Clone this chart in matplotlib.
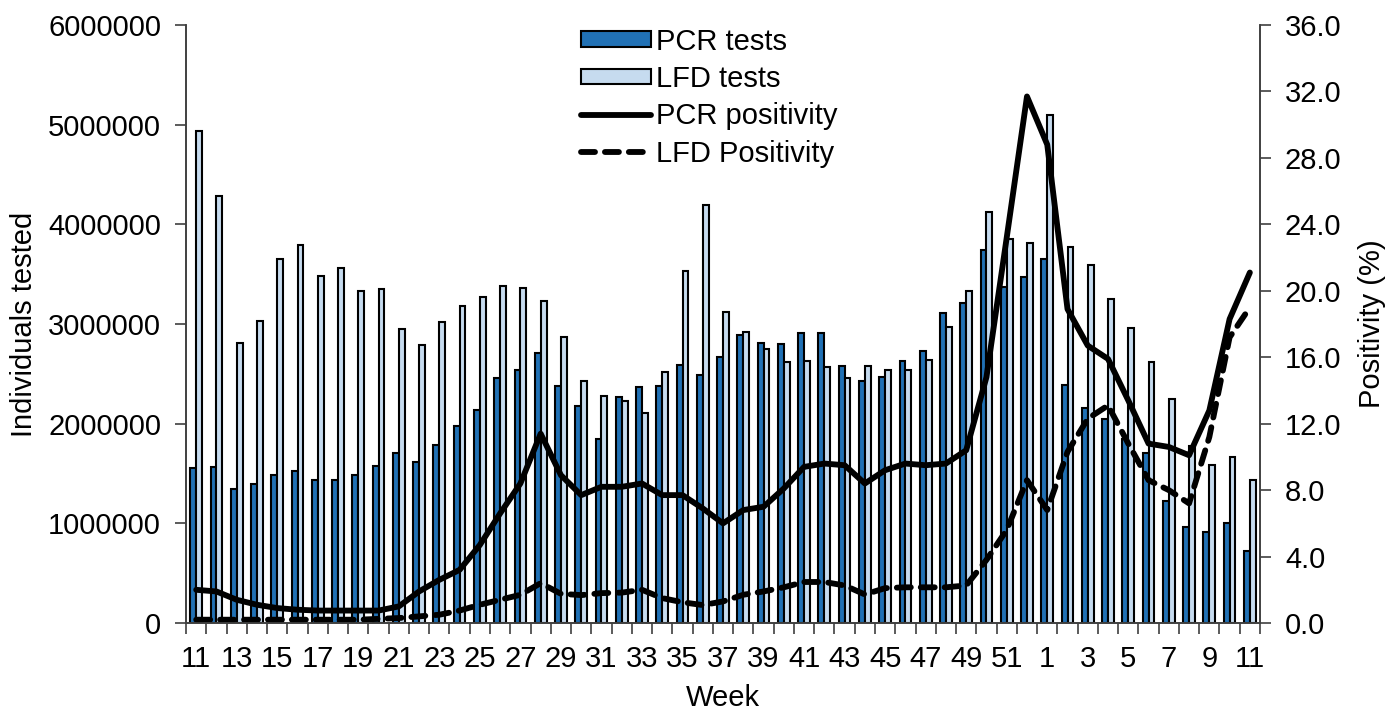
import numpy as np
import matplotlib
matplotlib.use("Agg")
import matplotlib.pyplot as plt
from matplotlib.ticker import FixedLocator, FuncFormatter

plt.rcParams['font.family'] = ['Liberation Sans', 'DejaVu Sans']

# week labels: 11..52 then 1..11
weeks = list(range(11, 53)) + list(range(1, 12))

# individuals tested (millions)
pcr_tests = [1.56, 1.57, 1.34, 1.39, 1.49, 1.53, 1.44, 1.44, 1.49, 1.58, 1.71, 1.62, 1.79, 1.98, 2.14, 2.46, 2.54, 2.71,
             2.38, 2.18, 1.85, 2.27, 2.37, 2.38, 2.59, 2.49, 2.67, 2.89, 2.81, 2.80, 2.91, 2.91, 2.58, 2.43,
             2.47, 2.63, 2.73, 3.11, 3.21, 3.74, 3.37, 3.47, 3.65, 2.39, 2.16, 2.05, 1.85, 1.71, 1.22, 0.96, 0.91, 1.00, 0.72]
lfd_tests = [4.94, 4.28, 2.81, 3.03, 3.65, 3.79, 3.48, 3.56, 3.33, 3.35, 2.95, 2.79, 3.02, 3.18, 3.27, 3.38, 3.36, 3.23,
             2.87, 2.43, 2.28, 2.23, 2.11, 2.52, 3.53, 4.19, 3.12, 2.92, 2.75, 2.62, 2.63, 2.57, 2.46, 2.58,
             2.54, 2.54, 2.64, 2.97, 3.33, 4.12, 3.85, 3.81, 5.10, 3.77, 3.59, 3.25, 2.96, 2.62, 2.25, 1.78, 1.59, 1.67, 1.43]

# positivity (%)
pcr_pos = [2.0, 1.9, 1.4, 1.1, 0.9, 0.8, 0.75, 0.75, 0.75, 0.75, 1.0, 1.9, 2.6, 3.2, 4.7, 6.6, 8.4,
           11.4, 8.9, 7.7, 8.2, 8.2, 8.4, 7.7, 7.7, 6.9, 6.0, 6.8, 7.0, 8.1, 9.4, 9.6, 9.5, 8.4,
           9.2, 9.6, 9.5, 9.6, 10.4, 14.8, 23.2, 31.7, 28.8, 18.9, 16.7, 15.9, 13.4, 10.8, 10.6, 10.1, 12.8, 18.3, 21.1]
lfd_pos = [0.2, 0.2, 0.2, 0.2, 0.2, 0.2, 0.2, 0.2, 0.2, 0.25, 0.3, 0.4, 0.5, 0.75, 1.1, 1.4, 1.7,
           2.4, 1.76, 1.68, 1.8, 1.83, 2.0, 1.5, 1.25, 1.08, 1.3, 1.7, 1.9, 2.15, 2.47, 2.47, 2.26, 1.72,
           2.1, 2.15, 2.15, 2.15, 2.26, 3.8, 5.6, 8.6, 6.8, 10.3, 12.3, 13.1, 10.8, 8.6, 8.0, 7.2, 11.2, 17.2, 19.0]

x = np.arange(len(weeks))
pcr_n = np.array(pcr_tests) * 1e6
lfd_n = np.array(lfd_tests) * 1e6

fs = 21
fig = plt.figure(figsize=(14, 7.13), dpi=100)
ax = fig.add_axes([0.1329, 0.1262, 0.9 - 0.1329, 0.9649 - 0.1262])
ax2 = ax.twinx()

w = 0.29
ax.bar(x - w / 2, pcr_n, width=w, color='#2171b5', edgecolor='black', linewidth=1.5, label='PCR tests')
ax.bar(x + w / 2, lfd_n, width=w, color='#c6dbef', edgecolor='black', linewidth=1.5, label='LFD tests')

ax2.plot(x, pcr_pos, color='black', lw=4.2, solid_capstyle='round', solid_joinstyle='round', label='PCR positivity')
ax2.plot(x, lfd_pos, color='black', lw=4.2, linestyle=(0, (2.4, 1.7)), dash_capstyle='round',
         label='LFD Positivity')

ax.set_xlim(-0.5, len(weeks) - 0.5)
ax.set_ylim(0, 6000000)
ax.set_yticks(np.arange(0, 6000001, 1000000))
ax.yaxis.set_major_formatter(FuncFormatter(lambda v, p: f"{int(v)}"))
ax2.set_ylim(0, 36)
ax2.set_yticks(np.arange(0, 37, 4))
ax2.yaxis.set_major_formatter(FuncFormatter(lambda v, p: f"{v:.1f}"))

# category boundary ticks, labels every second week
ax.xaxis.set_major_locator(FixedLocator(np.arange(-0.5, len(weeks), 1)))
ax.set_xticklabels([])
ax.set_xticks(x[::2], minor=True)
ax.set_xticklabels([str(weeks[i]) for i in x[::2]], minor=True)
ax.tick_params(axis='x', which='minor', length=0, labelsize=fs, pad=16)
ax.tick_params(axis='x', which='major', length=8, width=1.2, direction='out', color='#404040')
ax.tick_params(axis='y', length=8, width=1.2, labelsize=fs, pad=10, color='#404040')
ax2.tick_params(axis='y', length=8, width=1.2, labelsize=fs, pad=10, color='#404040')

for a in (ax, ax2):
    a.spines['top'].set_visible(False)
    for s in ('left', 'right', 'bottom'):
        a.spines[s].set_color('#404040')
        a.spines[s].set_linewidth(1.2)

ax.set_xlabel('Week', fontsize=fs, labelpad=8)
ax.set_ylabel('Individuals tested', fontsize=fs, labelpad=7)
ax2.set_ylabel('Positivity (%)', fontsize=fs, labelpad=12)

h1, l1 = ax.get_legend_handles_labels()
h2, l2 = ax2.get_legend_handles_labels()
ax2.legend(h1 + h2, l1 + l2, loc='upper left', bbox_to_anchor=(0.349, 1.03), frameon=False,
           fontsize=fs, handlelength=2.4, handleheight=0.45, labelspacing=0.32, handletextpad=0.15,
           borderpad=0.2)

fig.savefig('out.png', dpi=100)
